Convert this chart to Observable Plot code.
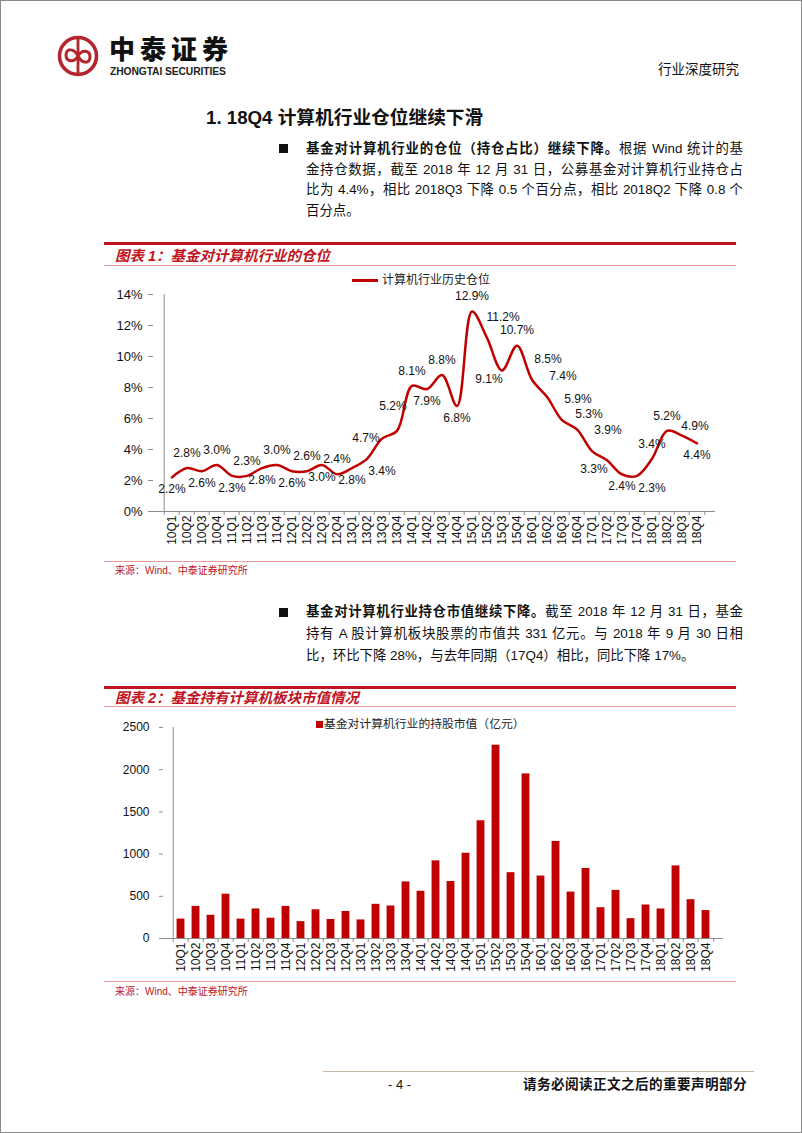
<!DOCTYPE html>
<html><head><meta charset="utf-8">
<script src="https://cdn.jsdelivr.net/npm/d3@7"></script>
<script src="https://cdn.jsdelivr.net/npm/@observablehq/plot@0.6"></script>
<style>
html,body{margin:0;padding:0;background:#fff;}
#page{position:relative;width:802px;height:1133px;overflow:hidden;font-family:"Liberation Sans","Noto Sans CJK SC",sans-serif;color:#111;}
#border{position:absolute;left:0;top:0;width:800px;height:1131px;border:1px solid #8a8a8a;pointer-events:none;}
.abs{position:absolute;white-space:nowrap;}
.para{position:absolute;left:306px;width:437px;font-size:13.4px;line-height:20px;height:20px;text-align:justify;text-align-last:justify;white-space:nowrap;}
.para.last{text-align-last:left;}
.para b{font-weight:700;}
.bullet{position:absolute;left:279px;width:9px;height:9px;background:#111;}
.thick{position:absolute;left:104px;width:632px;height:3px;background:#c0141e;}
.thin{position:absolute;left:104px;width:632px;height:1px;background:#e79a9c;}
.ctitle{position:absolute;left:115px;font-size:14.5px;line-height:16px;font-weight:700;font-style:italic;color:#c0141e;white-space:nowrap;}
.source{position:absolute;left:115px;font-size:10px;line-height:12px;color:#c0141e;white-space:nowrap;}
.chart{position:absolute;left:0;}
.chart svg g[aria-label^="y-axis"] line,.chart svg g[aria-label^="y-axis"] path,
.chart svg g[aria-label^="x-axis"] line,.chart svg g[aria-label^="x-axis"] path{stroke:#8c8c8c;}
#chart1 svg g[aria-label^="y-axis"] text{font-size:13px;}
</style></head>
<body>
<div id="page">
  <!-- header -->
  <svg class="abs" style="left:56px;top:34px" width="44" height="44" viewBox="0 0 44 44">
    <circle cx="22" cy="22" r="18.5" fill="none" stroke="#b3262c" stroke-width="3.6"/>
    <line x1="22" y1="5" x2="22" y2="39" stroke="#b3262c" stroke-width="2.8"/>
    <path d="M22 22 C18 14,10 14,10 21 C10 28,18 29,22 22 C26 15,34 16,34 23 C34 30,26 30,22 22" fill="none" stroke="#b3262c" stroke-width="3"/>
  </svg>
  <div class="abs" style="left:109px;top:35px;font-size:26px;line-height:26px;height:26px;font-weight:900;letter-spacing:5px;font-family:'Noto Sans CJK SC';color:#111;">中泰证券</div>
  <div class="abs" style="left:110px;top:66px;font-size:10.5px;line-height:11px;font-weight:700;font-family:'Liberation Sans';color:#222;transform:scaleX(0.98);transform-origin:0 0;letter-spacing:-0.1px;">ZHONGTAI SECURITIES</div>
  <div class="abs" style="left:658px;top:63px;font-size:13.5px;line-height:14px;">行业深度研究</div>

  <div class="abs" style="left:206px;top:108px;font-size:18.7px;line-height:20px;font-weight:700;">1. 18Q4 计算机行业仓位继续下滑</div>

  <div class="bullet" style="top:144px"></div>
  <div class="para" style="top:139px"><b>基金对计算机行业的仓位（持仓占比）继续下降。</b>根据 Wind 统计的基</div>
  <div class="para" style="top:159.5px">金持仓数据，截至 2018 年 12 月 31 日，公募基金对计算机行业持仓占</div>
  <div class="para" style="top:180px">比为 4.4%，相比 2018Q3 下降 0.5 个百分点，相比 2018Q2 下降 0.8 个</div>
  <div class="para last" style="top:200.5px">百分点。</div>

  <div class="thick" style="top:242px"></div>
  <div class="ctitle" style="top:248px">图表 1：基金对计算机行业的仓位</div>
  <div class="thin" style="top:265px"></div>
  <div class="abs" style="left:352px;top:279px;width:26px;height:2.5px;background:#c00000;"></div>
  <div class="abs" style="left:382px;top:274px;font-size:12px;line-height:13px;color:#222;">计算机行业历史仓位</div>
  <div class="chart" id="chart1" style="top:280px"></div>
  <div class="thin" style="top:561px"></div>
  <div class="source" style="top:565px">来源：Wind、中泰证券研究所</div>

  <div class="bullet" style="top:607.5px"></div>
  <div class="para" style="top:602px"><b>基金对计算机行业持仓市值继续下降。</b>截至 2018 年 12 月 31 日，基金</div>
  <div class="para" style="top:624px">持有 A 股计算机板块股票的市值共 331 亿元。与 2018 年 9 月 30 日相</div>
  <div class="para last" style="top:646px">比，环比下降 28%，与去年同期（17Q4）相比，同比下降 17%。</div>

  <div class="thick" style="top:686px"></div>
  <div class="ctitle" style="top:690px">图表 2：基金持有计算机板块市值情况</div>
  <div class="thin" style="top:706px"></div>
  <div class="abs" style="left:316px;top:721px;width:7px;height:7px;background:#c00000;"></div>
  <div class="abs" style="left:324px;top:718px;font-size:11.8px;line-height:13px;color:#222;">基金对计算机行业的持股市值（亿元）</div>
  <div class="chart" id="chart2" style="top:715px"></div>
  <div class="thin" style="top:981px"></div>
  <div class="source" style="top:986px">来源：Wind、中泰证券研究所</div>

  <!-- footer -->
  <div class="abs" style="left:323px;top:1071px;width:431px;height:1px;background:#c7b7a6;"></div>
  <div class="abs" style="left:388px;top:1078px;font-size:13px;line-height:14px;">- 4 -</div>
  <div class="abs" style="left:523px;top:1078px;font-size:13.6px;line-height:14px;font-weight:700;letter-spacing:0.4px;">请务必阅读正文之后的重要声明部分</div>
  <div id="border"></div>
</div>
<script>
// ---------- data ----------
const quarters = ["10Q1","10Q2","10Q3","10Q4","11Q1","11Q2","11Q3","11Q4","12Q1","12Q2","12Q3","12Q4",
  "13Q1","13Q2","13Q3","13Q4","14Q1","14Q2","14Q3","14Q4","15Q1","15Q2","15Q3","15Q4",
  "16Q1","16Q2","16Q3","16Q4","17Q1","17Q2","17Q3","17Q4","18Q1","18Q2","18Q3","18Q4"];
const positionPct = [2.2,2.8,2.6,3.0,2.3,2.3,2.8,3.0,2.6,2.6,3.0,2.4,
  2.8,3.4,4.7,5.2,8.1,7.9,8.8,6.8,12.9,11.2,9.1,10.7,
  8.5,7.4,5.9,5.3,3.9,3.3,2.4,2.3,3.4,5.2,4.9,4.4];
const marketValue = [230,380,275,525,230,350,240,380,200,340,225,320,
  220,405,385,670,560,920,675,1010,1395,2290,780,1950,
  740,1150,550,830,365,570,235,397,350,860,460,331];
const yTicksPct = [0,2,4,6,8,10,12,14];
const yTicksValue = [0,500,1000,1500,2000,2500];
// label placement around each point (layout hint, not data)
const labelSide = ["b","a","b","a","b","a","b","a","b","a","b","a",
  "b","br","l","al","a","b","a","b","a","ar","bl","a",
  "ar","ar","ar","ar2","ar","bl","b","br","a","a","r","b"];

// ---------- styling ----------
const red = "#c00000", axisGray = "#8c8c8c";
const W = 802;
const baseStyle = {fontFamily: "'Liberation Sans', Arial, sans-serif", fontSize: "12px", color: "#111", background: "transparent", overflow: "visible"};

// ---------- chart 1 ----------
{
  const f = {left:153, right:715, top:294, bottom:511, svgTop:280, svgH:282};
  const bw = (f.right - f.left) / quarters.length;
  const upp = 14 / (f.bottom - f.top);
  const rows = quarters.map((q, i) => ({q, v: positionPct[i], side: labelSide[i]}));
  const offsets = {a:[0,-15], b:[0,12], ar:[16,-21], ar2:[12,-15], bl:[-13,9], br:[15,12], l:[-16,0], al:[-4,-25], r:[13,-9]};
  const chart = Plot.plot({
    width: W, height: f.svgH,
    marginLeft: f.left, marginRight: W - f.right, marginTop: f.top - f.svgTop, marginBottom: f.svgTop + f.svgH - f.bottom,
    style: baseStyle,
    x: {type: "band", domain: quarters, padding: 0, tickSize: 0, tickPadding: 4, tickRotate: -90, label: null},
    y: {domain: [0, 14], ticks: yTicksPct, tickFormat: d => d + "%", tickSize: 5, tickPadding: 6, label: null},
    marks: [
      Plot.ruleY([0], {stroke: axisGray}),
      Plot.ruleX([quarters[0]], {x: d => d, dx: -bw / 2, y1: 0, y2: 14, stroke: axisGray}),
      Plot.ruleX(quarters, {x: d => d, dx: -bw / 2, y1: 0, y2: -4 * upp, stroke: axisGray}),
      Plot.ruleX([quarters[quarters.length - 1]], {x: d => d, dx: bw / 2, y1: 0, y2: -4 * upp, stroke: axisGray}),
      Plot.line(rows, {x: "q", y: "v", curve: "catmull-rom", stroke: red, strokeWidth: 2.5}),
      ...Object.entries(offsets).map(([k, [dx, dy]]) =>
        Plot.text(rows.filter(d => d.side === k), {x: "q", y: "v", text: d => d.v.toFixed(1) + "%", dx, dy, fill: "#111", fontSize: 12}))
    ]
  });
  document.getElementById("chart1").appendChild(chart);
}

// ---------- chart 2 ----------
{
  const f = {left:163, right:723, top:727, bottom:938, svgTop:715, svgH:262};
  const bw = (f.right - f.left) / quarters.length;
  const upp = 2500 / (f.bottom - f.top);
  const rows = quarters.map((q, i) => ({q, v: marketValue[i]}));
  const chart = Plot.plot({
    width: W, height: f.svgH,
    marginLeft: f.left, marginRight: W - f.right, marginTop: f.top - f.svgTop, marginBottom: f.svgTop + f.svgH - f.bottom,
    style: baseStyle,
    x: {type: "band", domain: quarters, padding: 0, tickSize: 0, tickPadding: 4, tickRotate: -90, label: null},
    y: {domain: [0, 2500], ticks: yTicksValue, tickFormat: d => String(d), tickSize: 4, tickPadding: 10, label: null},
    marks: [
      Plot.barY(rows, {x: "q", y: "v", fill: red, insetLeft: bw * 0.23, insetRight: bw * 0.23}),
      Plot.ruleY([0], {stroke: axisGray}),
      Plot.ruleX([quarters[0]], {x: d => d, dx: -bw / 2, y1: 0, y2: 2500, stroke: axisGray}),
      Plot.ruleX(quarters, {x: d => d, dx: -bw / 2, y1: 0, y2: -4 * upp, stroke: axisGray}),
      Plot.ruleX([quarters[quarters.length - 1]], {x: d => d, dx: bw / 2, y1: 0, y2: -4 * upp, stroke: axisGray})
    ]
  });
  document.getElementById("chart2").appendChild(chart);
}
</script>
</body></html>
